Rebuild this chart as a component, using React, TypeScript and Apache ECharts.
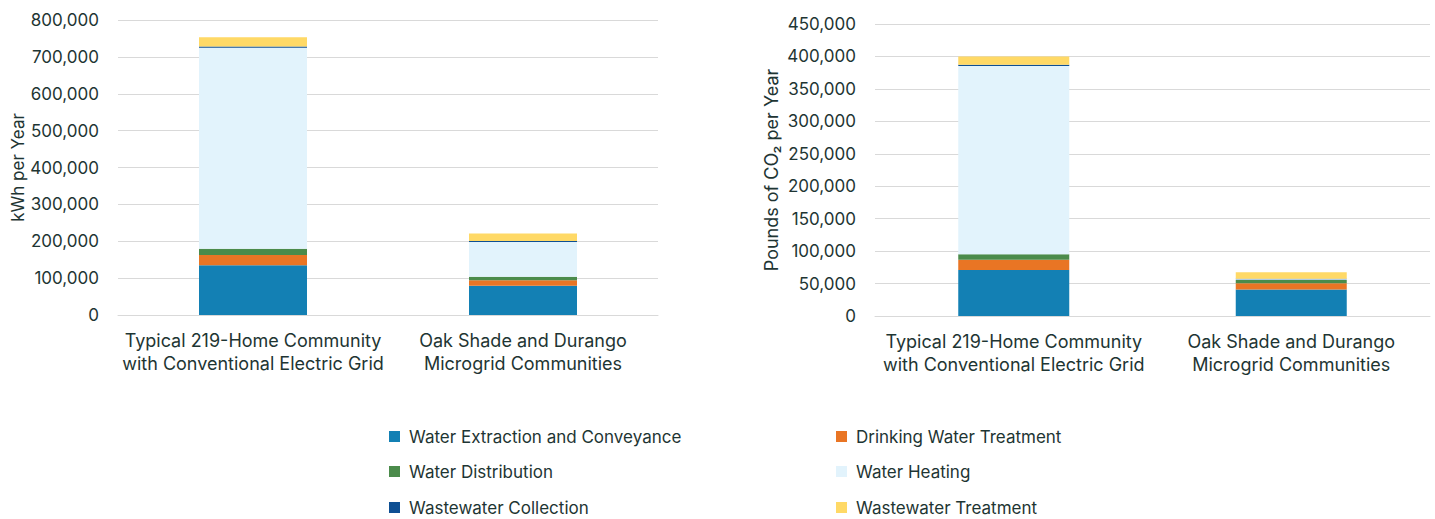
import React, { useEffect, useRef } from "react";
import * as echarts from "echarts";

const categories = [
  "Typical 219-Home Community\nwith Conventional Electric Grid",
  "Oak Shade and Durango\nMicrogrid Communities",
];

const seriesNames = [
  "Water Extraction and Conveyance",
  "Drinking Water Treatment",
  "Water Distribution",
  "Water Heating",
  "Wastewater Collection",
  "Wastewater Treatment",
];

const seriesColors = ["#1380B4", "#E97524", "#4B8B4B", "#E2F3FC", "#0E4F93", "#FFD966"];

// kWh per Year
const kwhExtraction = [135000, 79000];
const kwhDrinking = [28000, 15000];
const kwhDistribution = [17000, 10000];
const kwhHeating = [545000, 94000];
const kwhCollection = [3000, 3000];
const kwhWwTreatment = [25000, 20000];

// Pounds of CO2 per Year
const co2Extraction = [71000, 41000];
const co2Drinking = [15500, 9500];
const co2Distribution = [8800, 5000];
const co2Heating = [290000, 1000];
const co2Collection = [2000, 1000];
const co2WwTreatment = [12500, 10000];

const kwhTicksMax = 800000;
const kwhInterval = 100000;
const co2TicksMax = 450000;
const co2Interval = 50000;

const FONT = "Inter, 'Noto Sans', sans-serif";
const TEXT = "#1E3533";

export default function App() {
  const ref = useRef<HTMLDivElement>(null);

  useEffect(() => {
    if (!ref.current) return;
    const chart = echarts.init(ref.current, null, { renderer: "svg" });
    const kwh = [kwhExtraction, kwhDrinking, kwhDistribution, kwhHeating, kwhCollection, kwhWwTreatment];
    const co2 = [co2Extraction, co2Drinking, co2Distribution, co2Heating, co2Collection, co2WwTreatment];
    const fmt = (v: number) => v.toLocaleString("en-US");

    const mkX = (gridIndex: number) => ({
      type: "category",
      gridIndex,
      data: categories,
      axisLine: { show: true, lineStyle: { color: "#D9D9D9", width: 1 } },
      axisTick: { show: false },
      axisLabel: {
        color: TEXT,
        fontFamily: FONT,
        fontSize: 18,
        lineHeight: 23,
        margin: 14,
        interval: 0,
      },
    });
    const mkY = (
      gridIndex: number,
      max: number,
      interval: number,
      name: string,
      nameGap: number,
      nameSize: number
    ) => ({
      type: "value",
      gridIndex,
      min: 0,
      max,
      interval,
      name,
      nameLocation: "middle",
      nameGap,
      nameRotate: 90,
      nameTextStyle: { color: TEXT, fontFamily: FONT, fontSize: nameSize },
      axisLine: { show: false },
      axisTick: { show: false },
      splitLine: { lineStyle: { color: "#D9D9D9", width: 1 } },
      axisLabel: { color: TEXT, fontFamily: FONT, fontSize: 17, margin: 19, formatter: fmt },
    });

    const series: any[] = [];
    seriesNames.forEach((name, i) => {
      series.push({
        name,
        type: "bar",
        stack: "kwh",
        xAxisIndex: 0,
        yAxisIndex: 0,
        barWidth: "40%",
        data: kwh[i],
        itemStyle: { color: seriesColors[i] },
      });
    });
    seriesNames.forEach((name, i) => {
      series.push({
        name,
        type: "bar",
        stack: "co2",
        xAxisIndex: 1,
        yAxisIndex: 1,
        barWidth: "40%",
        data: co2[i],
        itemStyle: { color: seriesColors[i] },
      });
    });

    const legendPos = [
      { left: 389, top: 428 },
      { left: 836, top: 428 },
      { left: 389, top: 463 },
      { left: 836, top: 463 },
      { left: 389, top: 499 },
      { left: 836, top: 499 },
    ];
    const legend = seriesNames.map((name, i) => ({
      data: [name],
      left: legendPos[i].left,
      top: legendPos[i].top,
      icon: "rect",
      itemWidth: 11,
      itemHeight: 11,
      itemGap: 0,
      padding: 0,
      textStyle: { color: TEXT, fontFamily: FONT, fontSize: 17, padding: [0, 0, 0, 4] },
    }));

    chart.setOption({
      animation: false,
      backgroundColor: "#ffffff",
      grid: [
        { left: 118, right: 777, top: 20, bottom: 204 },
        { left: 875, right: 5, top: 24, bottom: 203 },
      ],
      xAxis: [mkX(0), mkX(1)],
      yAxis: [
        mkY(0, kwhTicksMax, kwhInterval, "kWh per Year", 92, 17),
        mkY(1, co2TicksMax, co2Interval, "Pounds of CO₂ per Year", 95, 18),
      ],
      legend,
      series,
    });
    return () => chart.dispose();
  }, []);

  return (
    <div
      ref={ref}
      style={{ width: 1435, height: 519, position: "absolute", left: 0, top: 0 }}
    />
  );
}
